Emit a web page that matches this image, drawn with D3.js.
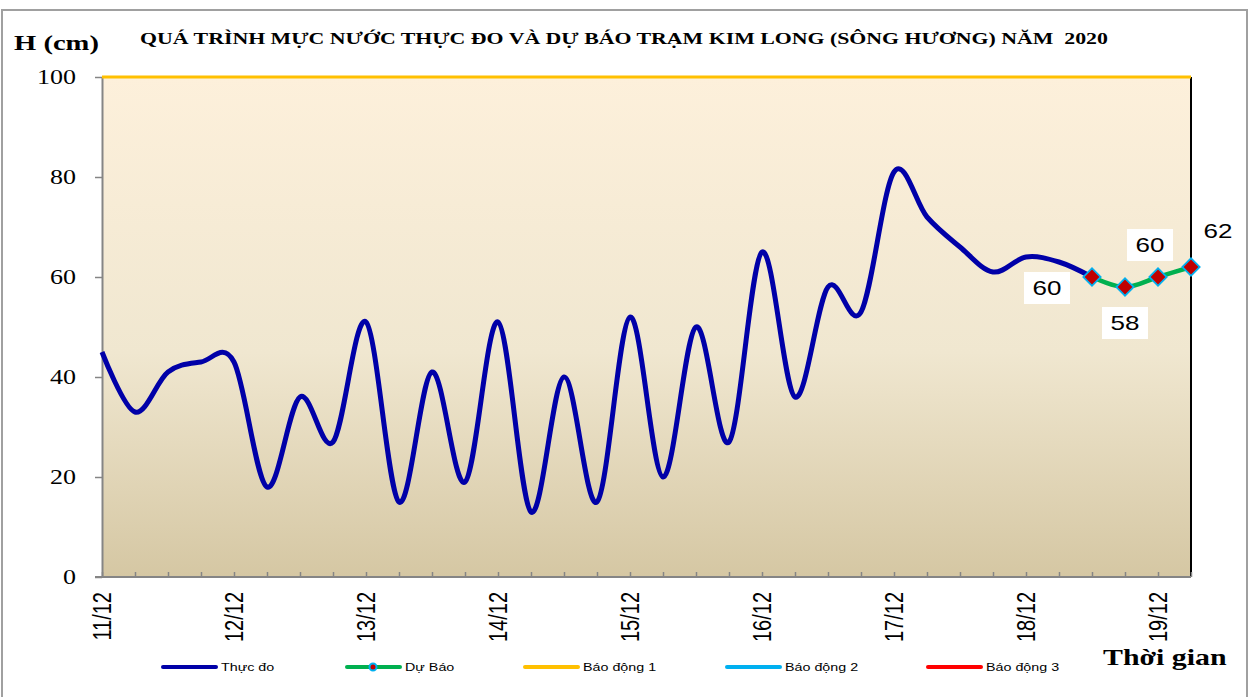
<!DOCTYPE html>
<html>
<head>
<meta charset="utf-8">
<script src="https://cdn.jsdelivr.net/npm/d3@7"></script>
<style>
  body { margin: 0; background: #fff; }
  svg { display: block; }
</style>
</head>
<body>
<div id="chart"></div>
<script>
// data, 6-hourly from 11/12/2020 00h
const startTime = new Date(2020, 11, 11, 0);
const observed = [45, 33, 41, 43, 43, 18, 36, 27, 51, 15, 41, 19, 51, 13, 40, 15,
    52, 20, 50, 27, 65, 36, 58, 53, 81, 72, 66, 61, 64, 63, 60];
const forecastStart = 30; // step index where forecast begins
const forecast = [60, 58, 60, 62];
const alarm1 = 100;
const dayLabels = ['11/12', '12/12', '13/12', '14/12', '15/12', '16/12', '17/12', '18/12', '19/12'];
const yTicks = [0, 20, 40, 60, 80, 100];
const legendItems = ['Thực đo', 'Dự Báo', 'Báo động 1', 'Báo động 2', 'Báo động 3'];

const width = 1251, height = 697;
const margin = { left: 102, right: 60, top: 77, bottom: 120 };
const SX = 1.3; // the original picture is stretched sideways

const serif = '"Liberation Serif", "Times New Roman", serif';
const sans = '"Liberation Sans", Arial, sans-serif';

const svg = d3.select('#chart')
    .append('svg')
    .attr('width', width)
    .attr('height', height);

// outer frame
svg.append('rect')
    .attr('x', 2).attr('y', 10)
    .attr('width', 1245).attr('height', 700)
    .attr('fill', 'none')
    .attr('stroke', '#a0a0a0')
    .attr('stroke-width', 2);

const stepTime = i => d3.timeHour.offset(startTime, i * 6);
const endTime = stepTime(forecastStart + forecast.length - 1);

const x = d3.scaleTime()
    .domain([startTime, endTime])
    .range([margin.left, width - margin.right]);

const y = d3.scaleLinear()
    .domain([0, 100])
    .range([height - margin.bottom, margin.top]);

// plot background
const defs = svg.append('defs');
const grad = defs.append('linearGradient')
    .attr('id', 'bg').attr('x1', 0).attr('y1', 0).attr('x2', 0).attr('y2', 1);
grad.append('stop').attr('offset', '0%').attr('stop-color', '#fdf0db');
grad.append('stop').attr('offset', '55%').attr('stop-color', '#f0e7d0');
grad.append('stop').attr('offset', '100%').attr('stop-color', '#d5c7a3');

svg.append('rect')
    .attr('x', x.range()[0])
    .attr('y', y(100))
    .attr('width', x.range()[1] - x.range()[0])
    .attr('height', y(0) - y(100))
    .attr('fill', 'url(#bg)');

// right border
svg.append('line')
    .attr('x1', x.range()[1]).attr('x2', x.range()[1])
    .attr('y1', y(100)).attr('y2', y(0))
    .attr('stroke', '#000').attr('stroke-width', 2);

// y axis
const yAxis = svg.append('g')
    .attr('transform', 'translate(' + margin.left + ',0)')
    .call(d3.axisLeft(y).tickValues(yTicks).tickSize(7).tickPadding(19).tickSizeOuter(0));
yAxis.attr('font-family', null);
yAxis.select('.domain').attr('stroke', '#858585').attr('stroke-width', 2);
yAxis.selectAll('.tick line').attr('stroke', '#858585').attr('stroke-width', 1.5);
yAxis.selectAll('.tick text')
    .attr('transform', function () {
        return 'translate(' + d3.select(this).attr('x') + ',0) scale(' + SX + ',1)';
    })
    .attr('x', 0)
    .style('font-family', serif)
    .style('font-size', '20px')
    .attr('fill', '#000');

// x axis: minor ticks every 6h, inside
const xMinor = svg.append('g')
    .attr('transform', 'translate(0,' + y(0) + ')')
    .call(d3.axisTop(x).ticks(d3.timeHour.every(6)).tickSize(5).tickFormat('').tickSizeOuter(0));
xMinor.select('.domain').remove();
xMinor.selectAll('.tick line').attr('stroke', '#858585').attr('stroke-width', 1.5);

svg.append('line')
    .attr('x1', margin.left - 7).attr('x2', x.range()[1])
    .attr('y1', y(0)).attr('y2', y(0))
    .attr('stroke', '#858585').attr('stroke-width', 2);

// day labels
const dayTimes = dayLabels.map((d, i) => d3.timeDay.offset(startTime, i));
svg.append('g')
    .selectAll('text')
    .data(dayLabels)
    .join('text')
    .attr('transform', (d, i) => 'translate(' + (x(dayTimes[i]) + 9) + ',' + (y(0) + 15) + ') scale(' + SX + ',1) rotate(-90)')
    .attr('text-anchor', 'end')
    .style('font-family', sans)
    .style('font-size', '20px')
    .text(d => d);

// alarm 1 line
svg.append('line')
    .attr('x1', x.range()[0]).attr('x2', x.range()[1])
    .attr('y1', y(alarm1)).attr('y2', y(alarm1))
    .attr('stroke', '#ffc000').attr('stroke-width', 3);

// observed
const line = d3.line()
    .x(d => x(d.t))
    .y(d => y(d.v))
    .curve(d3.curveCatmullRom.alpha(0));

const obsData = observed.map((v, i) => ({ t: stepTime(i), v: v }));
const fcData = forecast.map((v, i) => ({ t: stepTime(forecastStart + i), v: v }));

svg.append('path')
    .datum(obsData)
    .attr('fill', 'none')
    .attr('stroke', '#0000a8')
    .attr('stroke-width', 5)
    .attr('stroke-linejoin', 'round')
    .attr('d', line);

svg.append('path')
    .datum(fcData)
    .attr('fill', 'none')
    .attr('stroke', '#00b050')
    .attr('stroke-width', 4.5)
    .attr('d', line);

const diamond = d3.symbol().type(d3.symbolSquare).size(150);
svg.selectAll('.fc-dot')
    .data(fcData)
    .join('path')
    .attr('class', 'fc-dot')
    .attr('d', diamond)
    .attr('transform', d => 'translate(' + x(d.t) + ',' + y(d.v) + ') rotate(45)')
    .attr('fill', '#c00000')
    .attr('stroke', '#00b0f0')
    .attr('stroke-width', 1.8);

// data labels (manually placed, like in the original)
const labelOffsets = [[-45, 11, true], [0, 36, true], [-8, -32, true], [27, -36, false]];
const labels = svg.selectAll('.fc-label')
    .data(fcData)
    .join('g')
    .attr('class', 'fc-label')
    .attr('transform', (d, i) => 'translate(' + (x(d.t) + labelOffsets[i][0]) + ',' + (y(d.v) + labelOffsets[i][1]) + ')');
labels.filter((d, i) => labelOffsets[i][2])
    .append('rect')
    .attr('x', -23).attr('y', -16)
    .attr('width', 46).attr('height', 32)
    .attr('fill', '#fff');
labels.append('text')
    .attr('text-anchor', 'middle')
    .attr('dy', '0.36em')
    .attr('transform', 'scale(' + SX + ',1)')
    .style('font-family', sans)
    .style('font-size', '20px')
    .text(d => d.v);

// titles
svg.append('text')
    .attr('transform', 'translate(14,50) scale(' + SX + ',1)')
    .style('font-family', serif)
    .style('font-size', '22px')
    .style('font-weight', 'bold')
    .text('H (cm)');

svg.append('text')
    .attr('transform', 'translate(624,44) scale(' + SX + ',1)')
    .attr('text-anchor', 'middle')
    .style('font-family', serif)
    .style('font-size', '16.8px')
    .style('font-weight', 'bold')
    .attr('xml:space', 'preserve')
    .text('QUÁ TRÌNH MỰC NƯỚC THỰC ĐO VÀ DỰ BÁO TRẠM KIM LONG (SÔNG HƯƠNG) NĂM  2020');

svg.append('text')
    .attr('transform', 'translate(1103,665) scale(' + SX + ',1)')
    .style('font-family', serif)
    .style('font-size', '23px')
    .style('font-weight', 'bold')
    .text('Thời gian');

// legend
const legendX = [163, 347, 525, 727, 928];
const legendColor = ['#0000a8', '#00b050', '#ffc000', '#00b0f0', '#ff0000'];
const legend = svg.selectAll('.legend')
    .data(legendItems)
    .join('g')
    .attr('class', 'legend')
    .attr('transform', (d, i) => 'translate(' + legendX[i] + ',667)');
legend.append('line')
    .attr('x1', 0).attr('x2', 53)
    .attr('stroke', (d, i) => legendColor[i])
    .attr('stroke-width', 4)
    .attr('stroke-linecap', 'round');
legend.filter(d => d === 'Dự Báo')
    .append('circle')
    .attr('cx', 26).attr('r', 3.5)
    .attr('fill', '#c00000')
    .attr('stroke', '#00b0f0')
    .attr('stroke-width', 2);
legend.append('text')
    .attr('transform', 'translate(58,0) scale(' + SX + ',1)')
    .attr('dy', '0.35em')
    .style('font-family', sans)
    .style('font-size', '11px')
    .text(d => d);
</script>
</body>
</html>
